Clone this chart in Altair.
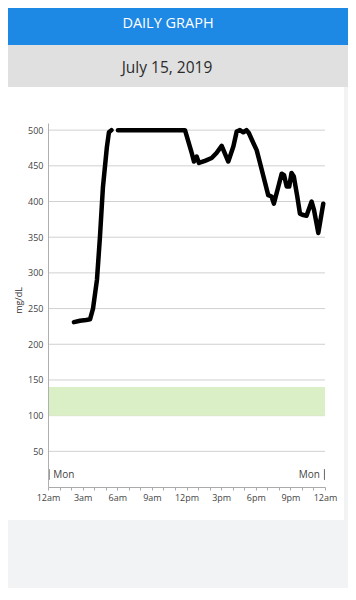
import json
import altair as alt
import pandas as pd

# ---- data ----
hours_1 = [2.25, 2.77, 3.3, 3.64, 3.9, 4.24, 4.5, 4.76, 5.1, 5.28, 5.5]
glucose_1 = [231, 233, 234, 235, 250, 290, 350, 420, 476, 497, 500]
hours_2 = [6.06, 8.0, 10.0, 11.87, 12.45, 12.65, 12.88, 13.08, 13.6, 14.18,
           14.6, 15.05, 15.62, 16.06, 16.35, 16.63, 16.92, 17.2, 17.4, 17.79,
           18.08, 18.37, 19.08, 19.37, 19.57, 19.96, 20.25, 20.45, 20.68, 20.9,
           21.1, 21.3, 21.6, 21.83, 22.12, 22.4, 22.84, 23.05, 23.42, 23.85]
glucose_2 = [500, 500, 500, 500, 468, 456, 463, 454, 457, 461,
             468, 478, 456, 477, 498, 500, 497, 500, 496, 482,
             472, 454, 409, 407, 397, 421, 439, 437, 421, 421,
             440, 435, 407, 383, 381, 380, 400, 388, 356, 397]
target_low = [100]
target_high = [140]
x_tick_labels = ["12am", "3am", "6am", "9am", "12pm", "3pm", "6pm", "9pm", "12am"]
y_ticks = [50, 100, 150, 200, 250, 300, 350, 400, 450, 500]
day_label = ["Mon"]
header_title = "DAILY GRAPH"
date_title = "July 15, 2019"

line_df = pd.DataFrame({
    "hour": hours_1 + hours_2,
    "mg": glucose_1 + glucose_2,
    "seg": [1] * len(hours_1) + [2] * len(hours_2),
})
band_df = pd.DataFrame({"x0": [0], "x1": [24], "lo": target_low, "hi": target_high})
grid_df = pd.DataFrame({"v": y_ticks, "x0": [0] * len(y_ticks), "x1": [24] * len(y_ticks)})
mon_df = pd.DataFrame({"h": [0.45, 23.55], "v": [17, 17], "t": day_label * 2,
                       "side": ["left", "right"]})
mon_rule_df = pd.DataFrame({"h": [0.1, 23.95], "v0": [10, 10], "v1": [25, 25]})
one = pd.DataFrame({"k": [0]})

FONT = "Open Sans"
xscale = alt.Scale(domain=[0, 24], nice=False, zero=False)
yscale = alt.Scale(domain=[0, 510], nice=False)

label_expr = "datum.value % 3 == 0 ? " + json.dumps(x_tick_labels) + "[datum.value / 3] : ''"

xaxis = alt.Axis(
    values=list(range(25)), labelExpr=label_expr, title=None, grid=False,
    tickSize=3, tickColor="#aaaaaa", domainColor="#aaaaaa",
    labelFont=FONT, labelFontSize=9, labelColor="#444444",
    labelPadding=3, labelOverlap=False, labelFlush=False, zindex=1)
yaxis = alt.Axis(
    values=y_ticks, title="mg/dL", grid=False,
    ticks=False, domainColor="#b0b0b0", labelFont=FONT, labelFontSize=9,
    labelColor="#444444", labelPadding=5, titleFont=FONT,
    titleFontSize=9, titleFontWeight="normal", titleColor="#333333",
    titleX=-30, titleY=177, titleAlign="center", titleBaseline="middle",
    zindex=1)


def box(color, x0, x1, y0, y1):
    return alt.Chart(one).mark_rect(color=color).encode(
        x=alt.value(x0), x2=alt.value(x1), y=alt.value(y0), y2=alt.value(y1))


page_bg = box("#f2f3f5", -40, 300, -115, 465)
card = box("#ffffff", -40, 296, -36, 397)
header = box("#1e88e5", -40, 300, -115, -78)
date_band = box("#e0e0e0", -40, 300, -78, -36)

header_text = alt.Chart(one).mark_text(
    text=header_title, color="#ffffff", font=FONT, fontSize=14.5,
    align="center", baseline="middle").encode(x=alt.value(120), y=alt.value(-99))
date_text = alt.Chart(one).mark_text(
    text=date_title, color="#2b2b2b", font=FONT, fontSize=15.5,
    align="center", baseline="middle").encode(x=alt.value(119), y=alt.value(-55))

grid = alt.Chart(grid_df).mark_rule(color="#d0d0d0", strokeWidth=1).encode(
    x=alt.X("x0:Q", scale=xscale, axis=xaxis), x2="x1:Q",
    y=alt.Y("v:Q", scale=yscale, axis=yaxis))

band = alt.Chart(band_df).mark_rect(color="#daefc5").encode(
    x=alt.X("x0:Q", scale=xscale, axis=xaxis), x2="x1:Q",
    y=alt.Y("lo:Q", scale=yscale, axis=yaxis), y2="hi:Q")

line = alt.Chart(line_df).mark_line(
    color="#000000", strokeWidth=4.5, strokeCap="round", strokeJoin="round").encode(
    x=alt.X("hour:Q", scale=xscale, axis=xaxis),
    y=alt.Y("mg:Q", scale=yscale, axis=yaxis),
    detail="seg:N")

mon_left = alt.Chart(mon_df[mon_df.side == "left"]).mark_text(
    align="left", baseline="middle", font=FONT, fontSize=10, color="#444444").encode(
    x=alt.X("h:Q", scale=xscale, axis=xaxis), y=alt.Y("v:Q", scale=yscale, axis=yaxis),
    text="t:N")
mon_right = alt.Chart(mon_df[mon_df.side == "right"]).mark_text(
    align="right", baseline="middle", font=FONT, fontSize=10, color="#444444").encode(
    x=alt.X("h:Q", scale=xscale, axis=xaxis), y=alt.Y("v:Q", scale=yscale, axis=yaxis),
    text="t:N")
mon_rules = alt.Chart(mon_rule_df).mark_rule(color="#666666", strokeWidth=1).encode(
    x=alt.X("h:Q", scale=xscale, axis=xaxis), y=alt.Y("v0:Q", scale=yscale, axis=yaxis),
    y2="v1:Q")

chart = alt.layer(
    page_bg, card, header, date_band, header_text, date_text,
    grid, band, line, mon_rules, mon_left, mon_right
).properties(width=277, height=364, padding=0).configure_view(stroke=None)

chart.save("out.html", embed_options={"renderer": "svg", "actions": False})
